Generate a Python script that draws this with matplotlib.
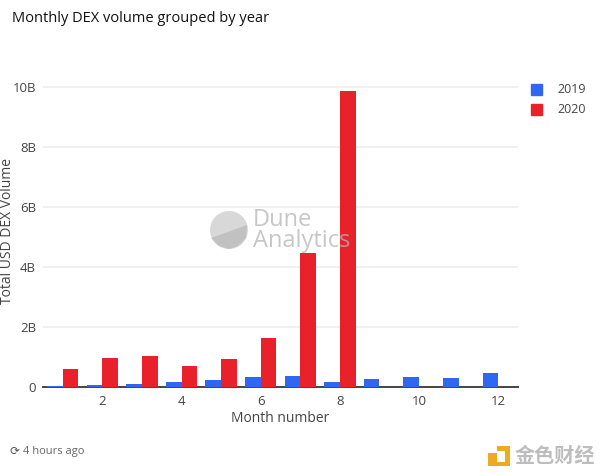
import numpy as np
import matplotlib
matplotlib.use('Agg')
import matplotlib.pyplot as plt
from matplotlib.patches import Circle, Rectangle, Polygon

plt.rcParams['font.family'] = ['Open Sans', 'Noto Sans CJK SC', 'DejaVu Sans']

months = np.arange(1, 13)
vol_2019 = [0.05, 0.08, 0.11, 0.17, 0.25, 0.33, 0.36, 0.17, 0.28, 0.34, 0.31, 0.47]
vol_2020 = [0.60, 0.98, 1.05, 0.70, 0.95, 1.62, 4.47, 9.87, 0, 0, 0, 0]
y_ticks = [0, 2, 4, 6, 8, 10]
y_labels = ['0', '2B', '4B', '6B', '8B', '10B']
x_ticks = [2, 4, 6, 8, 10, 12]

W, H = 600, 473
fig = plt.figure(figsize=(W / 100, H / 100), dpi=100)
ax = fig.add_axes([43 / W, 1 - 387 / H, 475 / W, 330 / H])

blue = '#2f66f2'
red = '#e8212b'
w = 0.395
ax.bar(months - w / 2, vol_2019, w, color=blue, zorder=3)
ax.bar(months + w / 2, vol_2020, w, color=red, zorder=3)

ax.set_xlim(0.5, 12.5)
ax.set_ylim(0, 11)
ax.set_xticks(x_ticks)
ax.set_yticks(y_ticks)
ax.set_yticklabels(y_labels)
ax.tick_params(length=0, labelsize=9.5, labelcolor='#444444')
ax.tick_params(axis='x', pad=6)
ax.tick_params(axis='y', pad=5)
ax.yaxis.grid(True, color='#eeeeee', lw=1.2, zorder=0)
ax.set_axisbelow(True)
for s in ['top', 'right', 'left']:
    ax.spines[s].set_visible(False)
ax.spines['bottom'].set_color('#444444')
ax.spines['bottom'].set_linewidth(1.4)

fig.text(280 / W, 1 - 418 / H, 'Month number', fontsize=10, color='#444444',
         ha='center', va='center')
fig.text(8 / W, 1 - 231 / H, 'Total USD DEX Volume', fontsize=10, color='#444444',
         rotation=90, ha='center', va='center')
fig.text(12 / W, 1 - 19 / H, 'Monthly DEX volume grouped by year', fontsize=10.5,
         color='#111111', va='center')

# legend
ov = fig.add_axes([0, 0, 1, 1], zorder=5)
ov.set_xlim(0, W)
ov.set_ylim(H, 0)
ov.axis('off')
ov.add_patch(Rectangle((531, 84), 11, 11, color=blue))
ov.add_patch(Rectangle((531, 104), 11, 11, color=red))
ov.text(557, 89.5, '2019', fontsize=9, color='#444444', va='center')
ov.text(557, 109.5, '2020', fontsize=9, color='#444444', va='center')

# dune watermark
ov.add_patch(Circle((229, 230), 19, color='#d4d4d4', alpha=0.9, lw=0))
ov.add_patch(Polygon([(211, 238), (247, 225), (246, 238), (238, 246), (229, 249),
                      (219, 246)], color='#bcbcbc', alpha=0.8, lw=0))
ov.text(253, 220, 'Dune', fontsize=17, color='#b5b5b5', alpha=0.75, va='center')
ov.text(253, 241, 'Analytics', fontsize=17, color='#b5b5b5', alpha=0.75, va='center')

# footer
ov.text(10, 451, '⟳', fontsize=8.5, color='#555555', va='center', family=['DejaVu Sans'])
ov.text(23, 451, '4 hours ago', fontsize=8, color='#666666', va='center')

# bottom right logo
orange = '#eeaa22'
ov.add_patch(Rectangle((488, 453), 9, 9, color=orange, lw=0))
ov.add_patch(Polygon([(497, 446), (510, 446), (510, 466), (488, 466), (488, 462),
                      (505, 462), (505, 451), (497, 451)], color=orange, lw=0))
ov.text(515, 457, '金色财经', fontsize=14.5, color='#bdbdbd', va='center', fontweight='bold')

fig.savefig('out.png', dpi=100)
